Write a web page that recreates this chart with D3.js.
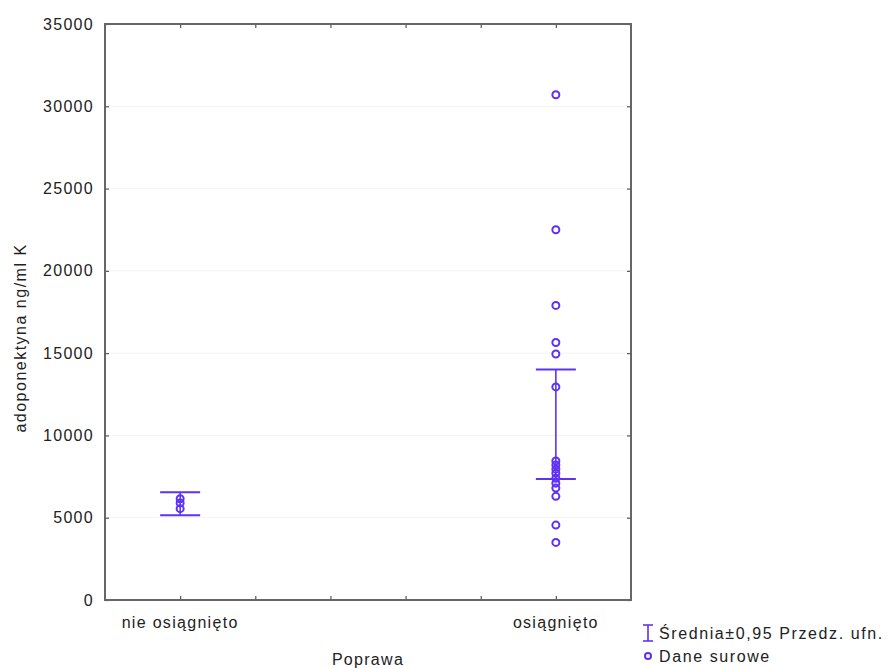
<!DOCTYPE html>
<html>
<head>
<meta charset="utf-8">
<script src="https://cdn.jsdelivr.net/npm/d3@7"></script>
<style>
  body { margin: 0; background: #fff; }
  text { font-family: "Liberation Sans", Arial, sans-serif; fill: #222; }
</style>
</head>
<body>
<div id="chart"></div>
<script>
// page set up
const FRAME_WIDTH = 887;
const FRAME_HEIGHT = 668;
const PLOT = {left: 105, right: 631, top: 24, bottom: 600};

// data
const CATEGORIES = ["nie osiągnięto", "osiągnięto"];
const CATEGORY_POS = [0, 5];
const RAW_NIE = [6150, 5900, 5550];
const RAW_OS = [30700, 22500, 17900, 15650, 14950, 12950, 8450, 8200, 7950, 7700, 7400, 7100, 6800, 6300, 4550, 3500];
const CI_LOW = [5150, 7350];
const CI_HIGH = [6550, 14000];
const Y_TICKS = [0, 5000, 10000, 15000, 20000, 25000, 30000, 35000];
const X_MINOR = [0, 1, 2, 3, 4, 5];

const COLOR = "#5f32f2";
const FONT = "16px";
const SPACING = "1.3px";

const svg = d3.select("#chart")
  .append("svg")
  .attr("width", FRAME_WIDTH)
  .attr("height", FRAME_HEIGHT);

const X_SCALE = d3.scaleLinear().domain([-1, 6]).range([PLOT.left, PLOT.right]);
const Y_SCALE = d3.scaleLinear().domain([0, 35000]).range([PLOT.bottom, PLOT.top]);

// faint grid
svg.selectAll(".grid")
  .data(Y_TICKS.slice(1, -1))
  .enter()
  .append("line")
  .attr("x1", PLOT.left).attr("x2", PLOT.right)
  .attr("y1", (d) => Y_SCALE(d)).attr("y2", (d) => Y_SCALE(d))
  .attr("stroke", "#f3f3f3");

// axes with inward ticks
const axisStyle = (g) => {
  g.select(".domain").remove();
  g.selectAll(".tick line").attr("stroke", "#555").attr("stroke-width", 1.2);
};

svg.append("g")
  .attr("transform", "translate(" + PLOT.left + ",0)")
  .call(d3.axisLeft(Y_SCALE).tickValues(Y_TICKS).tickSizeInner(-4).tickSizeOuter(0).tickPadding(11).tickFormat(d3.format("d")))
  .call(axisStyle)
  .selectAll("text")
  .attr("font-size", FONT)
  .attr("letter-spacing", SPACING);

svg.append("g")
  .attr("transform", "translate(" + PLOT.right + ",0)")
  .call(d3.axisRight(Y_SCALE).tickValues(Y_TICKS).tickSizeInner(-4).tickSizeOuter(0).tickFormat(""))
  .call(axisStyle);

svg.append("g")
  .attr("transform", "translate(0," + PLOT.bottom + ")")
  .call(d3.axisBottom(X_SCALE).tickValues(X_MINOR).tickSizeInner(-4).tickSizeOuter(0).tickFormat(""))
  .call(axisStyle);

svg.append("g")
  .attr("transform", "translate(0," + PLOT.top + ")")
  .call(d3.axisTop(X_SCALE).tickValues(X_MINOR).tickSizeInner(-4).tickSizeOuter(0).tickFormat(""))
  .call(axisStyle);

// frame
svg.append("rect")
  .attr("x", PLOT.left).attr("y", PLOT.top)
  .attr("width", PLOT.right - PLOT.left)
  .attr("height", PLOT.bottom - PLOT.top)
  .attr("fill", "none")
  .attr("stroke", "#666")
  .attr("stroke-width", 2);

// category labels
svg.selectAll(".cat")
  .data(CATEGORIES)
  .enter()
  .append("text")
  .attr("x", (d, i) => X_SCALE(CATEGORY_POS[i]))
  .attr("y", 628)
  .attr("text-anchor", "middle")
  .attr("font-size", FONT)
  .attr("letter-spacing", SPACING)
  .text((d) => d);

// axis titles
svg.append("text")
  .attr("x", (PLOT.left + PLOT.right) / 2)
  .attr("y", 665)
  .attr("text-anchor", "middle")
  .attr("font-size", FONT)
  .attr("letter-spacing", SPACING)
  .text("Poprawa");

svg.append("text")
  .attr("transform", "translate(26," + 338 + ") rotate(-90)")
  .attr("text-anchor", "middle")
  .attr("font-size", FONT)
  .attr("letter-spacing", "1.5px")
  .text("adoponektyna ng/ml K");

// confidence interval whiskers
const CAP = 20;
const groups = CATEGORIES.map((c, i) => ({pos: CATEGORY_POS[i], lo: CI_LOW[i], hi: CI_HIGH[i]}));

svg.selectAll(".ci")
  .data(groups)
  .enter()
  .append("line")
  .attr("x1", (d) => X_SCALE(d.pos)).attr("x2", (d) => X_SCALE(d.pos))
  .attr("y1", (d) => Y_SCALE(d.lo)).attr("y2", (d) => Y_SCALE(d.hi))
  .attr("stroke", COLOR).attr("stroke-width", 1.6);

["lo", "hi"].forEach((k) => {
  svg.selectAll(".cap-" + k)
    .data(groups)
    .enter()
    .append("line")
    .attr("x1", (d) => X_SCALE(d.pos) - CAP).attr("x2", (d) => X_SCALE(d.pos) + CAP)
    .attr("y1", (d) => Y_SCALE(d[k])).attr("y2", (d) => Y_SCALE(d[k]))
    .attr("stroke", COLOR).attr("stroke-width", 2);
});

// raw data points
const RAW = [RAW_NIE, RAW_OS];
RAW.forEach((vals, i) => {
  svg.selectAll(".pt" + i)
    .data(vals)
    .enter()
    .append("circle")
    .attr("cx", X_SCALE(CATEGORY_POS[i]))
    .attr("cy", (d) => Y_SCALE(d))
    .attr("r", 3.5)
    .attr("fill", "none")
    .attr("stroke", COLOR)
    .attr("stroke-width", 2);
});

// legend
const LEG_X = 648;
svg.append("line")
  .attr("x1", LEG_X).attr("x2", LEG_X).attr("y1", 625).attr("y2", 641)
  .attr("stroke", COLOR).attr("stroke-width", 1.6);
[625, 641].forEach((y) => {
  svg.append("line")
    .attr("x1", LEG_X - 5).attr("x2", LEG_X + 5).attr("y1", y).attr("y2", y)
    .attr("stroke", COLOR).attr("stroke-width", 1.6);
});
svg.append("circle")
  .attr("cx", LEG_X).attr("cy", 656).attr("r", 3)
  .attr("fill", "none").attr("stroke", COLOR).attr("stroke-width", 2);

svg.append("text")
  .attr("x", 659).attr("y", 639)
  .attr("font-size", FONT)
  .attr("letter-spacing", "1.6px")
  .text("Średnia±0,95 Przedz. ufn.");
svg.append("text")
  .attr("x", 659).attr("y", 662)
  .attr("font-size", FONT)
  .attr("letter-spacing", "1.6px")
  .text("Dane surowe");
</script>
</body>
</html>
